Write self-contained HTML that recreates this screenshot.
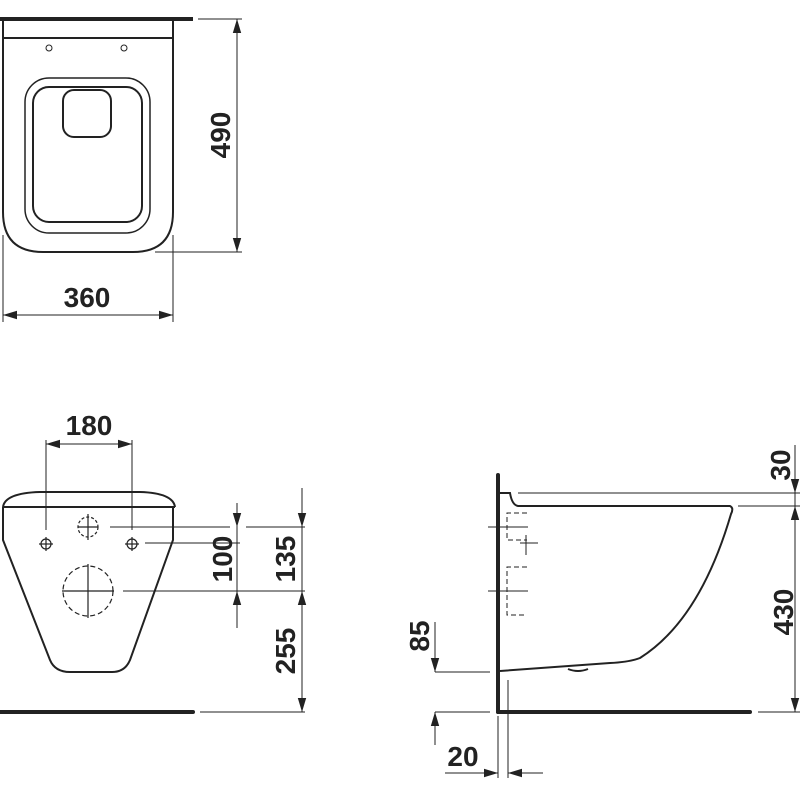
<!DOCTYPE html>
<html><head><meta charset="utf-8"><style>html,body{margin:0;padding:0;background:#fff}svg{display:block}text{font-family:"Liberation Sans",sans-serif;font-weight:bold;font-size:28px;fill:#222}</style></head><body>
<svg width="800" height="800" viewBox="0 0 800 800">
<defs>
<marker id="a" viewBox="0 0 10 10" refX="10" refY="5" markerWidth="14" markerHeight="14" markerUnits="userSpaceOnUse" orient="auto-start-reverse"><path d="M0,2 L10,5 L0,8z" fill="#222"/></marker>
</defs>
<g fill="none" stroke="#222" stroke-width="1">
<!-- TOP VIEW -->
<line x1="0" y1="19" x2="193" y2="19" stroke-width="4"/>
<path d="M3,20 V212 Q3,252 43,252 H133 Q173,252 173,212 V20" stroke-width="2"/>
<line x1="3" y1="38" x2="173" y2="38" stroke-width="2"/>
<circle cx="49" cy="48" r="3"/><circle cx="124" cy="48" r="3"/>
<rect x="25" y="78" width="125" height="155" rx="24" stroke-width="1.5"/>
<rect x="33" y="87" width="109" height="135" rx="16" stroke-width="2"/>
<rect x="63" y="90" width="48" height="47" rx="11" stroke-width="2"/>
<line x1="198" y1="19" x2="242" y2="19"/>
<line x1="155" y1="252" x2="242" y2="252"/>
<line x1="237" y1="19" x2="237" y2="252" marker-start="url(#a)" marker-end="url(#a)"/>
<line x1="3" y1="235" x2="3" y2="322"/>
<line x1="173" y1="235" x2="173" y2="322"/>
<line x1="3" y1="315" x2="173" y2="315" marker-start="url(#a)" marker-end="url(#a)"/>
<!-- FRONT VIEW -->
<path d="M3,507 Q5,493 40,492 H140 Q173,493 175,507" stroke-width="2"/>
<line x1="3" y1="507" x2="175" y2="507" stroke-width="2"/>
<path d="M3,507 V540 L50,660 Q55,672 70,672 H112 Q125,672 130,660 L173,540 V507" stroke-width="2"/>
<line x1="46" y1="440" x2="46" y2="530"/>
<line x1="132" y1="440" x2="132" y2="530"/>
<line x1="46" y1="444" x2="132" y2="444" marker-start="url(#a)" marker-end="url(#a)"/>
<g stroke-width="1.2">
<circle cx="46" cy="544" r="5"/><line x1="39" y1="544" x2="53" y2="544"/><line x1="46" y1="537" x2="46" y2="551"/>
<circle cx="132" cy="544" r="5"/><line x1="125" y1="544" x2="139" y2="544"/><line x1="132" y1="537" x2="132" y2="551"/>
<circle cx="88" cy="527" r="10" stroke-dasharray="3,2"/><line x1="78" y1="527" x2="98" y2="527"/><line x1="88" y1="514" x2="88" y2="540"/>
<circle cx="88" cy="591" r="25" stroke-dasharray="5,3"/><line x1="62" y1="591" x2="114" y2="591"/><line x1="88" y1="564" x2="88" y2="618"/>
</g>
<line x1="110" y1="527" x2="230" y2="527"/>
<line x1="246" y1="527" x2="305" y2="527"/>
<line x1="145" y1="543" x2="240" y2="543"/>
<line x1="123" y1="591" x2="305" y2="591"/>
<line x1="200" y1="712" x2="305" y2="712"/>
<line x1="237" y1="503" x2="237" y2="527" marker-end="url(#a)"/>
<line x1="237" y1="628" x2="237" y2="591" marker-end="url(#a)"/>
<line x1="237" y1="527" x2="237" y2="591"/>
<line x1="302" y1="488" x2="302" y2="527" marker-end="url(#a)"/>
<line x1="302" y1="527" x2="302" y2="591"/>
<line x1="302" y1="712" x2="302" y2="591" marker-end="url(#a)"/>
<line x1="302" y1="591" x2="302" y2="712" marker-end="url(#a)"/>
<line x1="0" y1="712" x2="193" y2="712" stroke-width="4" stroke-linecap="round"/>
<!-- SIDE VIEW -->
<line x1="498" y1="475" x2="498" y2="712" stroke-width="4" stroke-linecap="round"/>
<line x1="498" y1="712" x2="750" y2="712" stroke-width="4" stroke-linecap="round"/>
<path d="M500,493 H510 Q512,505 518,506 H730 Q734,508 731,514 Q700,620 640,658 Q630,662 610,663 L500,671" stroke-width="2"/>
<path d="M568,669 Q578,673 588,669" stroke-width="2"/>
<g stroke-dasharray="5,3">
<path d="M527,513 H507 V540 H527"/>
<path d="M527,567 H507 V615 H527"/>
</g>
<line x1="488" y1="527" x2="528" y2="527"/>
<line x1="488" y1="591" x2="528" y2="591"/>
<line x1="520" y1="543" x2="538" y2="543"/><line x1="526" y1="535" x2="526" y2="555"/>
<line x1="518" y1="493" x2="800" y2="493"/>
<line x1="738" y1="506" x2="800" y2="506"/>
<line x1="758" y1="712" x2="800" y2="712"/>
<line x1="795" y1="445" x2="795" y2="493" marker-end="url(#a)"/>
<line x1="795" y1="493" x2="795" y2="506"/>
<line x1="795" y1="506" x2="795" y2="712" marker-start="url(#a)" marker-end="url(#a)"/>
<line x1="435" y1="672" x2="490" y2="672"/>
<line x1="435" y1="712" x2="490" y2="712"/>
<line x1="435" y1="622" x2="435" y2="672" marker-end="url(#a)"/>
<line x1="435" y1="745" x2="435" y2="712" marker-end="url(#a)"/>
<line x1="498" y1="716" x2="498" y2="778"/>
<line x1="508" y1="680" x2="508" y2="778"/>
<line x1="445" y1="773" x2="498" y2="773" marker-end="url(#a)"/>
<line x1="543" y1="773" x2="508" y2="773" marker-end="url(#a)"/>
</g>
<text x="87" y="307" text-anchor="middle">360</text>
<text transform="translate(230,135) rotate(-90)" text-anchor="middle">490</text>
<text x="89" y="435" text-anchor="middle">180</text>
<text transform="translate(232,559) rotate(-90)" text-anchor="middle">100</text>
<text transform="translate(295,559) rotate(-90)" text-anchor="middle">135</text>
<text transform="translate(295,651) rotate(-90)" text-anchor="middle">255</text>
<text transform="translate(790,465) rotate(-90)" text-anchor="middle">30</text>
<text transform="translate(793,612) rotate(-90)" text-anchor="middle">430</text>
<text transform="translate(429,636) rotate(-90)" text-anchor="middle">85</text>
<text x="463" y="766" text-anchor="middle">20</text>
</svg>
</body></html>
